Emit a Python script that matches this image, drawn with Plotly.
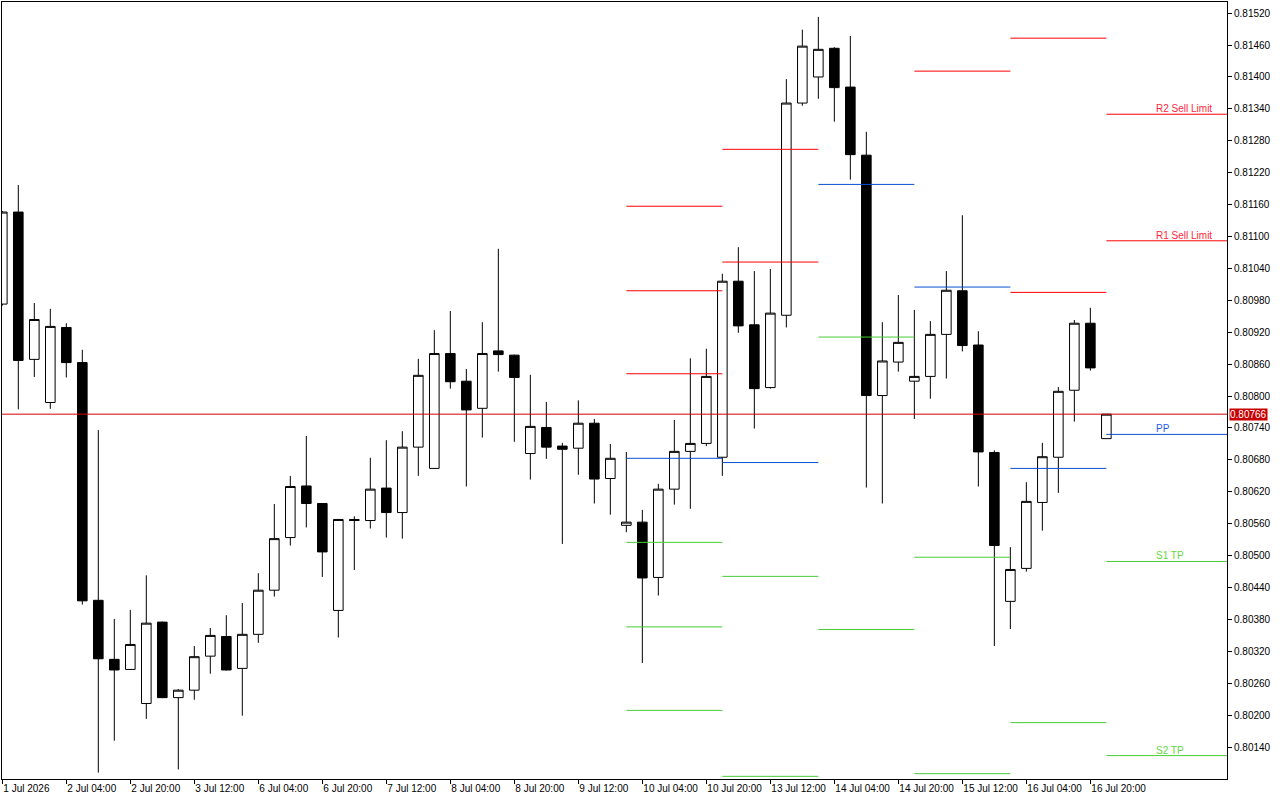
import pandas as pd
import plotly.graph_objects as go

# ---------------- data ----------------
# H4 bars (weekends skipped), first visible bar 1 Jul 2026 12:00
bar_times = [t for t in pd.date_range("2026-07-01 12:00", "2026-07-17 00:00", freq="4h") if t.weekday() < 5]

opens = [0.80973, 0.81146, 0.80869, 0.80788, 0.80929, 0.80863, 0.80416, 0.80305, 0.80286, 0.80222,
         0.80375, 0.80233, 0.80247, 0.80311, 0.80348, 0.80288, 0.80352, 0.80435, 0.80534, 0.80631,
         0.80598, 0.80397, 0.80568, 0.80566, 0.80627, 0.80581, 0.80704, 0.80664, 0.80880, 0.80828,
         0.80777, 0.80885, 0.80877, 0.80692, 0.80741, 0.80706, 0.80702, 0.80749, 0.80645, 0.80557,
         0.80563, 0.80459, 0.80625, 0.80696, 0.80711, 0.80685, 0.81016, 0.80934, 0.80816, 0.80952,
         0.81351, 0.81400, 0.81454, 0.81381, 0.81253, 0.80801, 0.80864, 0.80828, 0.80837, 0.80916,
         0.80998, 0.80896, 0.80694, 0.80414, 0.80476, 0.80600, 0.80685, 0.80811, 0.80937, 0.80720]
highs = [0.81148, 0.81197, 0.80975, 0.80964, 0.80937, 0.80887, 0.80736, 0.80381, 0.80398, 0.80463,
         0.80376, 0.80249, 0.80330, 0.80364, 0.80388, 0.80411, 0.80467, 0.80597, 0.80650, 0.80725,
         0.80599, 0.80569, 0.80574, 0.80684, 0.80717, 0.80734, 0.80870, 0.80924, 0.80960, 0.80851,
         0.80939, 0.81077, 0.80878, 0.80840, 0.80789, 0.80712, 0.80792, 0.80757, 0.80710, 0.80695,
         0.80586, 0.80635, 0.80755, 0.80871, 0.80889, 0.81030, 0.81080, 0.81035, 0.81039, 0.81396,
         0.81489, 0.81513, 0.81456, 0.81477, 0.81297, 0.80939, 0.80990, 0.80962, 0.80941, 0.81035,
         0.81140, 0.80922, 0.80698, 0.80516, 0.80638, 0.80712, 0.80817, 0.80943, 0.80966, 0.80766]
lows = [0.80970, 0.80775, 0.80836, 0.80776, 0.80835, 0.80408, 0.80092, 0.80152, 0.80285, 0.80193,
        0.80232, 0.80098, 0.80229, 0.80278, 0.80284, 0.80199, 0.80336, 0.80423, 0.80519, 0.80553,
        0.80460, 0.80346, 0.80473, 0.80551, 0.80534, 0.80532, 0.80650, 0.80663, 0.80814, 0.80630,
        0.80722, 0.80846, 0.80714, 0.80643, 0.80682, 0.80522, 0.80652, 0.80598, 0.80577, 0.80544,
        0.80298, 0.80425, 0.80596, 0.80588, 0.80706, 0.80650, 0.80919, 0.80739, 0.80814, 0.80929,
        0.81346, 0.81359, 0.81316, 0.81207, 0.80628, 0.80598, 0.80846, 0.80757, 0.80795, 0.80833,
        0.80884, 0.80630, 0.80330, 0.80362, 0.80470, 0.80547, 0.80618, 0.80752, 0.80848, 0.80720]
closes = [0.81146, 0.80867, 0.80944, 0.80931, 0.80863, 0.80415, 0.80306, 0.80285, 0.80333, 0.80373,
          0.80233, 0.80247, 0.80310, 0.80350, 0.80285, 0.80352, 0.80435, 0.80532, 0.80630, 0.80598,
          0.80507, 0.80568, 0.80566, 0.80625, 0.80581, 0.80704, 0.80839, 0.80880, 0.80827, 0.80774,
          0.80880, 0.80878, 0.80835, 0.80743, 0.80704, 0.80700, 0.80749, 0.80644, 0.80683, 0.80563,
          0.80458, 0.80625, 0.80696, 0.80711, 0.80837, 0.81016, 0.80932, 0.80814, 0.80956, 0.81351,
          0.81458, 0.81452, 0.81380, 0.81254, 0.80801, 0.80866, 0.80901, 0.80837, 0.80916, 0.80999,
          0.80895, 0.80695, 0.80519, 0.80474, 0.80602, 0.80686, 0.80809, 0.80937, 0.80853, 0.80766]

# daily pivot levels (one value per day, None = off chart)
pivot_days = ["2026-07-10", "2026-07-13", "2026-07-14", "2026-07-15", "2026-07-16", "2026-07-17"]
R3 = [0.81157, None, None, None, None, None]
R2 = [0.80998, 0.81264, None, None, 0.81473, 0.81330]
R1 = [0.80842, 0.81052, None, 0.81411, 0.80995, 0.81092]
PP = [0.80683, 0.80675, 0.81198, 0.81005, 0.80664, 0.80728]
S1 = [0.80525, 0.80461, 0.80911, 0.80497, 0.80186, 0.80489]
S2 = [0.80366, 0.80085, 0.80361, 0.80090, None, 0.80124]
S3 = [0.80209, None, None, None, None, None]

level_names = ["R3", "R2", "R1", "PP", "S1", "S2", "S3"]
level_values = [R3, R2, R1, PP, S1, S2, S3]
last_day_labels = {"R2": "R2 Sell Limit", "R1": "R1 Sell Limit", "PP": "PP", "S1": "S1 TP", "S2": "S2 TP"}

y_tick_labels = ["0.80140", "0.80200", "0.80260", "0.80320", "0.80380", "0.80440", "0.80500", "0.80560",
                 "0.80620", "0.80680", "0.80740", "0.80800", "0.80860", "0.80920", "0.80980", "0.81040",
                 "0.81100", "0.81160", "0.81220", "0.81280", "0.81340", "0.81400", "0.81460", "0.81520"]
label_bar_offset = 3  # text objects placed 3 bars after the current day's open

# ---------------- styling ----------------
RED = "#ff0000"
BLUE = "#0a50d2"
GREEN = "#46cc36"
level_color = {"R3": RED, "R2": RED, "R1": RED, "PP": BLUE, "S1": GREEN, "S2": GREEN, "S3": GREEN}
text_color = {"R2": "#ff1f3a", "R1": "#ff1f3a", "PP": "#1f5ae6", "S1": "#62d83c", "S2": "#62d83c"}
FONT = "Liberation Sans, Arial, sans-serif"

x_idx = list(range(len(bar_times)))
x_range = [-0.019, 76.54]
y_range = [0.80080, 0.81541]

fig = go.Figure()

# current bid line
last_close = closes[-1]
fig.add_trace(go.Scatter(x=x_range, y=[last_close, last_close], mode="lines",
                         line=dict(color="#d40000", width=1), hoverinfo="skip"))

fig.add_trace(go.Candlestick(
    x=x_idx, open=opens, high=highs, low=lows, close=closes,
    increasing=dict(line=dict(color="black", width=1), fillcolor="white"),
    decreasing=dict(line=dict(color="black", width=1), fillcolor="black"),
    whiskerwidth=0, hoverinfo="skip", showlegend=False))

# pivot segments
day_start = {}
for i, t in enumerate(bar_times):
    key = t.strftime("%Y-%m-%d")
    day_start.setdefault(key, i)

for name, vals in zip(level_names, level_values):
    xs, ys = [], []
    for d, v in zip(pivot_days, vals):
        if v is None:
            continue
        s = day_start[d]
        e = s + 6 if d != pivot_days[-1] else x_range[1]
        xs += [s, e, None]
        ys += [v, v, None]
    fig.add_trace(go.Scatter(x=xs, y=ys, mode="lines",
                             line=dict(color=level_color[name], width=1), hoverinfo="skip"))

# labels for current day
last_start = day_start[pivot_days[-1]]
for name, vals in zip(level_names, level_values):
    if name in last_day_labels and vals[-1] is not None:
        fig.add_annotation(x=last_start + label_bar_offset, y=vals[-1], text=last_day_labels[name],
                           xanchor="left", yanchor="bottom", showarrow=False, yshift=-2,
                           font=dict(family=FONT, size=10, color=text_color[name]))

# current price tag on axis
fig.add_annotation(xref="paper", x=1, y=last_close, text=f"{last_close:.5f}", xanchor="left",
                   yanchor="middle", showarrow=False, xshift=2, bgcolor="#c80000",
                   borderpad=0, font=dict(family=FONT, size=10, color="white"))

tickvals = list(range(0, len(bar_times), 4))
ticktext = ["1 Jul 2026" if i == 0 else f"{bar_times[i].day} {bar_times[i]:%b %H:%M}" for i in tickvals]
y_tickvals = [float(s) for s in y_tick_labels]

fig.update_layout(
    width=1280, height=800,
    margin=dict(l=2, r=53, t=2, b=21),
    plot_bgcolor="white", paper_bgcolor="white",
    showlegend=False, boxgap=0.4, boxgroupgap=0,
    font=dict(family=FONT, size=10, color="black"),
    xaxis=dict(range=x_range, tickvals=tickvals, ticktext=ticktext, ticks="outside", ticklen=4,
               tickcolor="black", showline=True, linecolor="black", linewidth=1, mirror=True,
               showgrid=False, zeroline=False, ticklabelposition="outside right",
               rangeslider=dict(visible=False), fixedrange=True),
    yaxis=dict(range=y_range, side="right", tickvals=y_tickvals, ticktext=y_tick_labels,
               ticks="outside", ticklen=4, tickcolor="black", showline=True, linecolor="black",
               linewidth=1, mirror=True, showgrid=False, zeroline=False, fixedrange=True),
)

fig.write_html("out.html")
